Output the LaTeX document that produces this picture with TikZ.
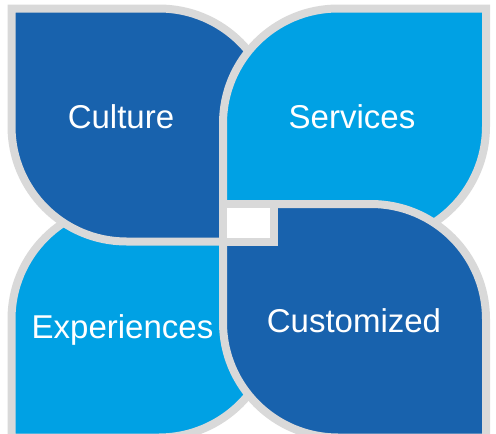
\documentclass[tikz,border=0pt]{standalone}
\usepackage{fontspec}
\setmainfont{Liberation Sans}
\definecolor{darkleaf}{HTML}{1862AD}
\definecolor{lightleaf}{HTML}{00A1E4}
\definecolor{rim}{HTML}{D9D9D9}
\tikzset{
  leaf/.style={draw=rim, line width=8pt, line join=miter},
  lbl/.style={text=white, anchor=base, inner sep=0pt, font=\fontsize{33}{40}\selectfont}
}
\begin{document}
\begin{tikzpicture}[x=1pt,y=-1pt]
\clip (0,0) rectangle (496,434);
\fill[white] (0,0) rectangle (496,434);
% Experiences (bottom left)
\draw[leaf, fill=lightleaf] (11.5,437.5) -- (11.5,319) .. controls (11.5,255.5) and (63,204) .. (126.5,204) -- (274,204) -- (274,322.5) .. controls (274,386) and (222.5,437.5) .. (159,437.5) -- cycle;
% Culture (top left)
\draw[leaf, fill=darkleaf] (11.5,8.5) -- (159,8.5) .. controls (222.5,8.5) and (274,60) .. (274,123.5) -- (274,241.5) -- (126.5,241.5) .. controls (63,241.5) and (11.5,190) .. (11.5,126.5) -- cycle;
% Services (top right)
\draw[leaf, fill=lightleaf] (486,8.5) -- (486,126.5) .. controls (486,190) and (434.5,241.5) .. (371,241.5) -- (223,241.5) -- (223,123.5) .. controls (223,60) and (274.5,8.5) .. (338,8.5) -- cycle;
% Customized (bottom right)
\draw[leaf, fill=darkleaf] (223,204) -- (371,204) .. controls (434.5,204) and (486,255.5) .. (486,319) -- (486,437.5) -- (338,437.5) .. controls (274.5,437.5) and (223,386) .. (223,322.5) -- cycle;
% centre square
\draw[leaf, fill=white] (223,204) rectangle (274,241.5);
% labels
\node[lbl] (culture) at (121,128) {Culture};
\node[lbl] (services) at (352,128) {Services};
\node[lbl] (experiences) at (122.5,338) {Experiences};
\node[lbl] (customized) at (354,332) {Customized};
\end{tikzpicture}
\end{document}
